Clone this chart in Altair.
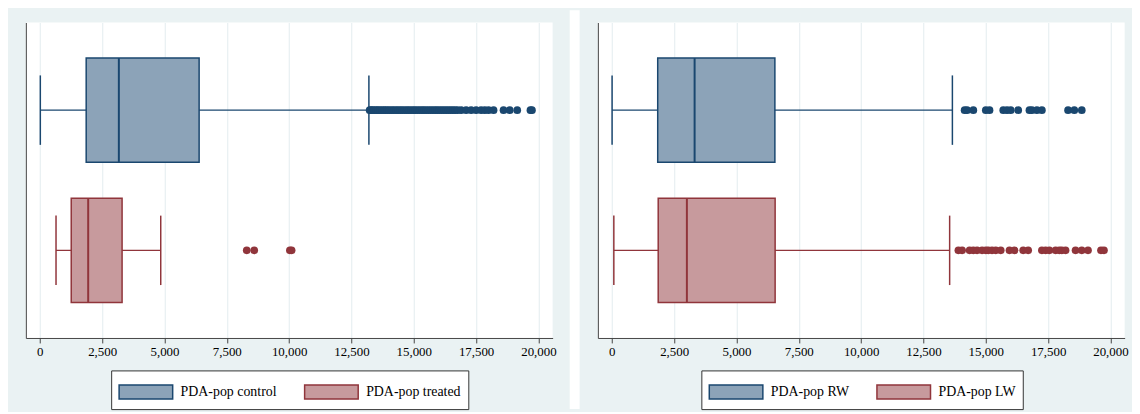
import altair as alt
import pandas as pd

# ---- left panel: control vs treated
left_groups = ["PDA-pop control", "PDA-pop treated"]
left_low = [20, 650]
left_q1 = [1860, 1260]
left_median = [3170, 1940]
left_q3 = [6390, 3300]
left_high = [13200, 4850]
control_outliers = [13230, 13290, 13350, 13420, 13500, 13560, 13640, 13720, 13800,
                    13870, 13950, 14030, 14120, 14200, 14290, 14370, 14460, 14540,
                    14630, 14720, 14800, 14890, 14980, 15060, 15150, 15240, 15330,
                    15410, 15500, 15590, 15680, 15770, 15860, 15940, 16030, 16120,
                    16210, 16300, 16390, 16480, 16570, 16660, 16760, 16900, 17100,
                    17300, 17500, 17700, 17850, 18000, 18200, 18600, 18850, 19150,
                    19680, 19740]
treated_outliers = [8300, 8600, 10030, 10100]

# ---- right panel: RW vs LW
right_groups = ["PDA-pop RW", "PDA-pop LW"]
right_low = [10, 80]
right_q1 = [1840, 1860]
right_median = [3320, 3010]
right_q3 = [6540, 6550]
right_high = [13660, 13550]
rw_outliers = [14150, 14250, 14500, 15000, 15150, 15700, 15850, 16000, 16300,
               16750, 16850, 17050, 17250, 18300, 18550, 18850]
lw_outliers = [13900, 14050, 14350, 14500, 14650, 14850, 15000, 15100, 15250,
               15400, 15600, 15950, 16150, 16500, 16700, 17250, 17400, 17550,
               17800, 17950, 18050, 18200, 18600, 18850, 19100, 19620, 19740]

x_ticks = [0, 2500, 5000, 7500, 10000, 12500, 15000, 17500, 20000]

light = ["#8ca3b8", "#c79a9d"]
dark = ["#1a476f", "#90353b"]
font = "Liberation Serif, Times New Roman, DejaVu Serif, serif"
axis_col = "#444444"


def box_panel(groups, low, q1, median, q3, high, outliers, legend_x, gap=False):
    stats = pd.DataFrame({"group": groups, "low": low, "q1": q1,
                          "median": median, "q3": q3, "high": high})
    caps = pd.DataFrame({"group": groups + groups, "value": low + high})
    pts = pd.DataFrame({
        "group": [g for g, vals in zip(groups, outliers) for _ in vals],
        "value": [v for vals in outliers for v in vals],
    })

    x_scale = alt.Scale(domain=[-560, 20570], nice=False, zero=False)
    x_axis = alt.Axis(values=x_ticks, format=",.0f", title=None, grid=True,
                      gridColor="#e3ecef", domainColor=axis_col, tickColor=axis_col,
                      tickSize=5, labelFont=font, labelFontSize=13,
                      labelColor="black", labelPadding=3)
    y = alt.Y("group:N",
              scale=alt.Scale(type="point", domain=groups, padding=0.625),
              axis=alt.Axis(labels=False, ticks=False, title=None, grid=False,
                            domainColor=axis_col))
    dark_color = alt.Color("group:N", scale=alt.Scale(domain=groups, range=dark),
                           legend=None)
    legend = alt.Legend(
        orient="none", legendX=legend_x, legendY=350.7, direction="horizontal",
        columns=2, columnPadding=25, padding=7, title=None,
        strokeColor="#333333", fillColor="white",
        symbolType="M-1,-0.52L3,-0.52L3,0.52L-1,0.52Z", symbolSize=729,
        symbolStrokeWidth=1.5, labelOffset=34,
        labelFont=font, labelFontSize=14, labelColor="black",
    )

    base = alt.Chart(stats)
    whisker = base.mark_rule(strokeWidth=1.3).encode(
        x=alt.X("low:Q", scale=x_scale, axis=x_axis), x2="high:Q",
        y=y, color=dark_color)
    box = base.mark_bar(size=105, strokeWidth=1.5).encode(
        x=alt.X("q1:Q", scale=x_scale, axis=x_axis), x2="q3:Q", y=y,
        fill=alt.Fill("group:N", scale=alt.Scale(domain=groups, range=light),
                      legend=legend),
        stroke=alt.Stroke("group:N", scale=alt.Scale(domain=groups, range=dark),
                          legend=legend))
    med = base.mark_tick(size=105, thickness=2, opacity=1).encode(
        x=alt.X("median:Q", scale=x_scale, axis=x_axis), y=y, color=dark_color)
    cap = alt.Chart(caps).mark_tick(size=70, thickness=1.5, opacity=1).encode(
        x=alt.X("value:Q", scale=x_scale, axis=x_axis), y=y, color=dark_color)
    dots = alt.Chart(pts).mark_circle(size=60, opacity=1).encode(
        x=alt.X("value:Q", scale=x_scale, axis=x_axis), y=y, color=dark_color)

    layers = [whisker, box, med, cap, dots]
    if gap:
        # white strip separating the two grey panels
        strip = alt.Chart(pd.DataFrame({"k": [0]})).mark_rect(color="white").encode(
            x=alt.value(-28.4), x2=alt.value(-18.4),
            y=alt.value(-12.3), y2=alt.value(389.7))
        layers = [strip] + layers
    return alt.layer(*layers).resolve_scale(
        color="independent").properties(width=531, height=318)


left = box_panel(left_groups, left_low, left_q1, left_median, left_q3, left_high,
                 [control_outliers, treated_outliers], legend_x=86)
right = box_panel(right_groups, right_low, right_q1, right_median, right_q3,
                  right_high, [rw_outliers, lw_outliers], legend_x=104.3, gap=True)

chart = (
    alt.hconcat(left, right, spacing=12.6)
    .resolve_scale(color="independent", fill="independent", stroke="independent")
    .resolve_legend(fill="independent", stroke="independent")
    .properties(background="#eaf2f3",
                padding={"left": 18, "top": 0, "right": 3, "bottom": 0})
    .configure_view(fill="white", strokeWidth=0)
)

chart.save("out.html", embed_options={"renderer": "svg", "actions": False})
